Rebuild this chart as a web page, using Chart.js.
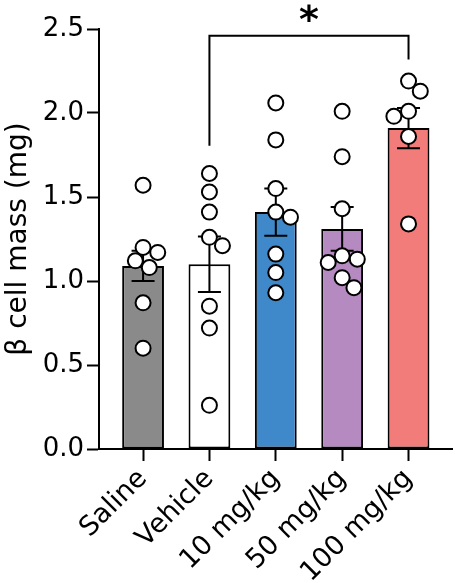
<!DOCTYPE html>
<html><head><meta charset="utf-8">
<script src="https://cdn.jsdelivr.net/npm/chart.js@4.4.1/dist/chart.umd.min.js"></script>
<style>html,body{margin:0;padding:0;background:#fff;overflow:hidden}</style>
</head><body>
<canvas id="c" width="455" height="583" style="width:455px;height:583px;display:block"></canvas>
<script>
// ---- data ----
const categories = ['Saline', 'Vehicle', '10 mg/kg', '50 mg/kg', '100 mg/kg'];
const salineValues  = [1.57, 1.20, 1.17, 1.12, 1.08, 0.87, 0.60];
const vehicleValues = [1.64, 1.53, 1.41, 1.26, 1.21, 0.85, 0.72, 0.26];
const mg10Values    = [2.06, 1.84, 1.55, 1.41, 1.38, 1.16, 1.05, 0.93];
const mg50Values    = [2.01, 1.74, 1.43, 1.15, 1.13, 1.11, 1.02, 0.96];
const mg100Values   = [2.19, 2.13, 2.01, 1.98, 1.86, 1.34];
const groupValues = [salineValues, vehicleValues, mg10Values, mg50Values, mg100Values];
const means = [1.09, 1.10, 1.41, 1.31, 1.91];
const sems  = [0.09, 0.165, 0.14, 0.13, 0.12];
const yTickValues = [0, 0.5, 1.0, 1.5, 2.0, 2.5];
const bracketX = [1, 1, 4, 4];
const bracketY = [1.805, 2.46, 2.46, 2.318];
const sigLabel = '*';
const yTitle = 'β cell mass (mg)';

// ---- styles ----
const barColors = ['#8a8a8a', '#ffffff', '#3f88c9', '#b58ac0', '#f27c7a'];
const FONT = 'DejaVu Sans';
Chart.defaults.font.family = FONT;
Chart.defaults.color = '#000';

const errorBarPlugin = {
  id: 'errbars',
  afterDatasetDraw(chart, args) {
    if (args.index !== 0) return;
    const { ctx, scales: { y } } = chart;
    const meta = chart.getDatasetMeta(0);
    ctx.save();
    ctx.strokeStyle = '#000';
    ctx.lineWidth = 2;
    meta.data.forEach((bar, i) => {
      const cx = bar.x;
      const top = y.getPixelForValue(means[i] + sems[i]);
      const bot = y.getPixelForValue(means[i] - sems[i]);
      const half = 11.5;
      ctx.beginPath();
      ctx.moveTo(cx, top); ctx.lineTo(cx, bot);
      ctx.moveTo(cx - half, top); ctx.lineTo(cx + half, top);
      ctx.moveTo(cx - half, bot); ctx.lineTo(cx + half, bot);
      ctx.stroke();
    });
    ctx.restore();
  }
};

const sigPlugin = {
  id: 'sig',
  afterDraw(chart) {
    const { ctx, scales: { x, y } } = chart;
    const px = x.getPixelForValue((bracketX[1] + bracketX[2]) / 2);
    const py = y.getPixelForValue(bracketY[1]) - 14;
    ctx.save();
    ctx.font = 'bold 38px "' + FONT + '"';
    ctx.fillStyle = '#000';
    ctx.textAlign = 'center';
    ctx.textBaseline = 'middle';
    ctx.fillText(sigLabel, px, py);
    ctx.restore();
  }
};

const initialPoints = [];
groupValues.forEach((vals, i) => vals.forEach(v => initialPoints.push({ x: i, y: v })));

const chart = new Chart(document.getElementById('c'), {
  data: {
    datasets: [
      {
        type: 'bar',
        data: means.map((m, i) => ({ x: i, y: m })),
        backgroundColor: barColors,
        borderColor: '#000',
        borderWidth: 2,
        borderSkipped: false,
        categoryPercentage: 1,
        barPercentage: 0.63,
        order: 3
      },
      {
        type: 'line',
        data: bracketX.map((bx, i) => ({ x: bx, y: bracketY[i] })),
        borderColor: '#000',
        borderWidth: 2,
        pointRadius: 0,
        fill: false,
        tension: 0,
        clip: false,
        order: 2
      },
      {
        type: 'scatter',
        data: initialPoints,
        pointRadius: 7.5,
        pointHoverRadius: 7.5,
        pointBorderWidth: 2,
        pointBackgroundColor: '#fff',
        pointBorderColor: '#000',
        clip: false,
        order: 1
      }
    ]
  },
  options: {
    responsive: false,
    animation: false,
    events: [],
    layout: { autoPadding: false, padding: { left: 0, right: 3, top: 29, bottom: 0 } },
    plugins: { legend: { display: false }, tooltip: { enabled: false } },
    scales: {
      x: {
        type: 'linear',
        offset: false,
        min: -0.664,
        max: 4.655,
        afterBuildTicks: s => { s.ticks = categories.map((c, i) => ({ value: i })); },
        afterFit: s => { s.height = 134; s.paddingLeft = 0; s.paddingRight = 0; },
        border: { display: true, color: '#000', width: 2 },
        grid: { display: true, offset: false, drawOnChartArea: false, drawTicks: true, tickLength: 12, tickColor: '#000', tickWidth: 2 },
        ticks: {
          autoSkip: false,
          minRotation: 45,
          maxRotation: 45,
          padding: 2,
          font: { size: 27 },
          color: '#000',
          callback: v => categories[v] !== undefined ? categories[v] : ''
        }
      },
      y: {
        type: 'linear',
        min: 0,
        max: 2.5,
        afterBuildTicks: s => { s.ticks = yTickValues.map(v => ({ value: v })); },
        afterFit: s => { s.width = 99; },
        border: { display: true, color: '#000', width: 2 },
        grid: { display: true, drawOnChartArea: false, drawTicks: true, tickLength: 12, tickColor: '#000', tickWidth: 2 },
        ticks: { padding: 3, font: { size: 26 }, color: '#000', callback: v => Number(v).toFixed(1) },
        title: { display: true, text: yTitle, font: { size: 28 }, color: '#000', padding: { top: 2, bottom: 0 } }
      }
    }
  },
  plugins: [errorBarPlugin, sigPlugin]
});

// beeswarm placement using the chart's scales
function swarm(values, center, xs, ys, D) {
  const placed = [];
  const out = [];
  let side = 1;
  const cx = xs.getPixelForValue(center);
  values.forEach(v => {
    const py = ys.getPixelForValue(v);
    const iv = [];
    placed.forEach(p => {
      const dy = Math.abs(p.py - py);
      if (dy < D) { const w = Math.sqrt(D * D - dy * dy); iv.push([p.px - w, p.px + w]); }
    });
    const cands = [cx];
    iv.forEach(([a, b]) => cands.push(a, b));
    const ok = c => iv.every(([a, b]) => c <= a + 1e-6 || c >= b - 1e-6);
    let best = null;
    cands.filter(ok).forEach(c => {
      if (best === null) { best = c; return; }
      const d = Math.abs(c - cx), bd = Math.abs(best - cx);
      if (d < bd - 1e-6 || (Math.abs(d - bd) < 1e-6 && Math.sign(c - cx) === side)) best = c;
    });
    if (Math.abs(best - cx) > 1e-6) side = -Math.sign(best - cx);
    placed.push({ px: best, py });
    out.push({ x: xs.getValueForPixel(best), y: v });
  });
  return out;
}

const pts = [];
groupValues.forEach((vals, i) => pts.push(...swarm(vals, i, chart.scales.x, chart.scales.y, 15.5)));
chart.data.datasets[2].data = pts;
chart.update('none');
</script>
</body></html>
